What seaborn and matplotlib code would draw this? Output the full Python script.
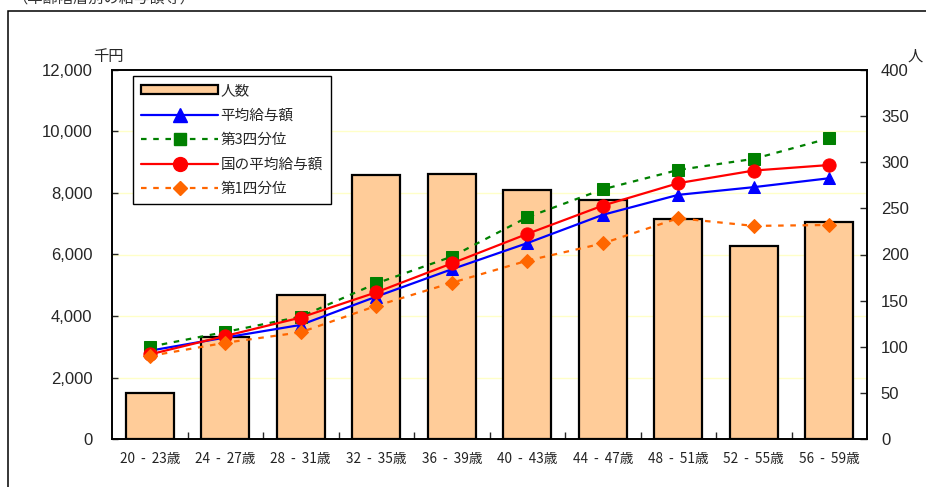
import numpy as np
import pandas as pd
import matplotlib
matplotlib.use("Agg")
import matplotlib.pyplot as plt
from matplotlib.lines import Line2D
from matplotlib.patches import Patch, Rectangle
from matplotlib.ticker import StrMethodFormatter, FixedLocator
import seaborn as sns

# ---- data ----
age_groups = ["20-23", "24-27", "28-31", "32-35", "36-39",
              "40-43", "44-47", "48-51", "52-55", "56-59"]
tick_labels = ["20  -  23歳", "24  -  27歳", "28  -  31歳", "32  -  35歳", "36  -  39歳",
               "40  -  43歳", "44  -  47歳", "48  -  51歳", "52  -  55歳", "56  -  59歳"]
headcount = [50, 111, 156, 286, 287, 270, 259, 239, 209, 235]          # 人 (right axis)
avg_pay = [2870, 3300, 3710, 4630, 5520, 6370, 7290, 7940, 8190, 8480]  # 平均給与額 (千円)
q3_pay = [3000, 3480, 3980, 5060, 5930, 7210, 8120, 8750, 9110, 9780]   # 第3四分位
nat_avg_pay = [2750, 3350, 3950, 4770, 5710, 6670, 7590, 8320, 8730, 8910]  # 国の平均給与額
q1_pay = [2700, 3130, 3470, 4330, 5080, 5800, 6360, 7180, 6930, 6960]   # 第1四分位

left_ticks = [0, 2000, 4000, 6000, 8000, 10000, 12000]
right_ticks = [0, 50, 100, 150, 200, 250, 300, 350, 400]

sns.set_style("white")
plt.rcParams["font.family"] = ["Liberation Sans", "Noto Sans CJK JP"]
JP = ["Noto Sans CJK JP", "DejaVu Sans"]

df = pd.DataFrame({"age": age_groups, "count": headcount, "avg": avg_pay,
                   "q3": q3_pay, "nat": nat_avg_pay, "q1": q1_pay})

fig = plt.figure(figsize=(9.26, 4.87), dpi=100)
ax = fig.add_axes([112/926, 1-439/487, 755/926, 369/487])
ax2 = ax.twinx()

# outer frame (clipped at right/bottom)
fig.patches.append(Rectangle((8/926, -0.05), 1.2, 1-11/487+0.05, transform=fig.transFigure,
                             fill=False, edgecolor="black", linewidth=1.1, zorder=0))
# cut-off caption at very top
fig.text(12/926, 1+2/487, "（年齢階層別の給与額等）", fontsize=11, family=JP,
         ha="left", va="center", color="#333333")

# bars on primary axis (scale shown on right)
sns.barplot(data=df, x="age", y="count", color="#FFCC99", saturation=1,
            edgecolor="black", linewidth=1.6, width=0.635, ax=ax, zorder=2)
ax.set_ylim(0, 400)
ax.set_xlim(-0.5, len(age_groups) - 0.5)
for v in left_ticks[1:-1]:
    ax.axhline(v / left_ticks[-1] * 400, color="#FFFFC8", linewidth=1.0, zorder=0)
ax.set_xlabel("")
ax.set_ylabel("")

# lines on twin axis (scale shown on left)
series = [("avg", "#0000FF", "^", 9, "-"),
          ("q3", "#008000", "s", 8.5, (0, (2.5, 3))),
          ("nat", "#FF0000", "o", 9.5, "-"),
          ("q1", "#FF6600", "D", 7, (0, (2.5, 3)))]
for col, c, m, ms, ls in series:
    sns.lineplot(data=df, x="age", y=col, color=c, marker=m, markersize=ms,
                 markeredgecolor=c, markerfacecolor=c, linewidth=1.6,
                 linestyle=ls, sort=False, ax=ax2)
ax2.set_ylim(0, 12000)
ax2.set_xlim(-0.5, len(age_groups) - 0.5)
ax2.set_ylabel("")
ax2.set_xlabel("")

# y axes: bars scale on the right, money scale on the left
ax.yaxis.tick_right()
ax.yaxis.set_label_position("right")
ax.set_yticks(right_ticks)
ax.tick_params(axis="y", which="both", direction="in", length=5, width=1, pad=10,
               labelsize=12, right=True, left=False, labelright=True, labelleft=False)

ax2.yaxis.tick_left()
ax2.yaxis.set_label_position("left")
ax2.set_yticks(left_ticks)
ax2.yaxis.set_major_formatter(StrMethodFormatter("{x:,.0f}"))
ax2.tick_params(axis="y", direction="in", length=4, width=1, pad=14, labelsize=12,
                left=True, right=False, labelleft=True, labelright=False)

# x axis: labels at centres, small inward tick marks at boundaries
ax.set_xticks(range(len(age_groups)))
ax.set_xticklabels(tick_labels, family=JP, fontsize=9.8, color="#222222")
ax.tick_params(axis="x", length=0, pad=9)
ax.xaxis.set_minor_locator(FixedLocator(np.arange(0.5, len(age_groups) - 1, 1.0)))
ax.tick_params(axis="x", which="minor", direction="in", length=5, width=1, bottom=True)
ax2.tick_params(axis="x", length=0)

for a in (ax, ax2):
    for s in a.spines.values():
        s.set_color("black")
        s.set_linewidth(1.2)

# unit labels
fig.text(93/926, 1-56/487, "千円", family=JP, fontsize=11, ha="left", va="center")
fig.text(915/926, 1-56/487, "人", family=JP, fontsize=11, ha="center", va="center")

# legend
handles = [Patch(facecolor="#FFCC99", edgecolor="black", linewidth=1.6),
           Line2D([], [], color="#0000FF", marker="^", markersize=10, linewidth=1.6),
           Line2D([], [], color="#008000", marker="s", markersize=9, linewidth=1.6,
                  linestyle=(0, (2.5, 3))),
           Line2D([], [], color="#FF0000", marker="o", markersize=10, linewidth=1.6),
           Line2D([], [], color="#FF6600", marker="D", markersize=7.5, linewidth=1.6,
                  linestyle=(0, (2.5, 3)))]
labels = ["人数", "平均給与額", "第3四分位", "国の平均給与額", "第1四分位"]
leg = ax2.legend(handles, labels, loc="upper left", bbox_to_anchor=(0.028, 0.984),
                 prop={"family": JP, "size": 10.5}, handlelength=5.3, handleheight=0.6,
                 numpoints=1, labelspacing=0.72, handletextpad=0.15, borderpad=0.55,
                 borderaxespad=0, fancybox=False, framealpha=1, edgecolor="black")
leg.get_frame().set_linewidth(1.0)

fig.savefig("out.png", dpi=100)
